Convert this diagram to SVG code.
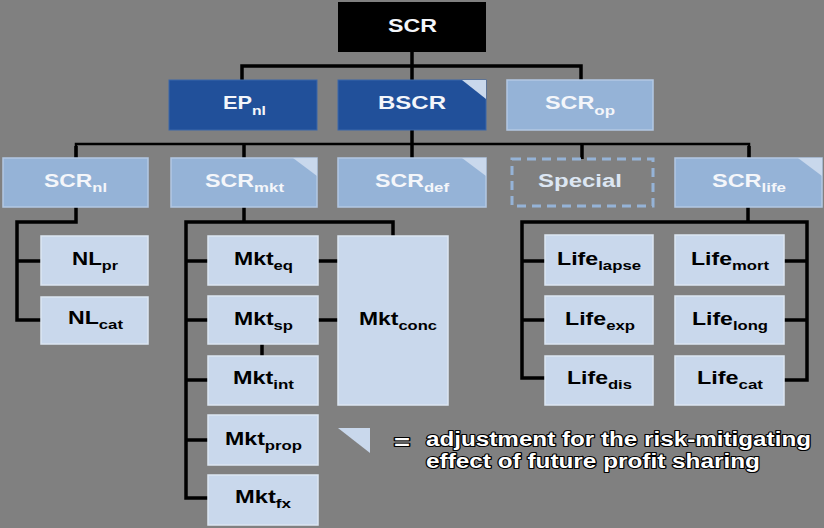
<svg xmlns="http://www.w3.org/2000/svg" width="824" height="528" viewBox="0 0 824 528">
<style>
  .bg{fill:#808080}
  .dark{fill:#21509A;stroke:#3A66AA;stroke-width:1}
  .mid{fill:#95B3D7;stroke:#B3C8E3;stroke-width:1.5}
  .light{fill:#C9D8EC;stroke:#DCE6F2;stroke-width:1.5}
  .corner{fill:#C9D8EC}
  .w{font-family:"Liberation Sans",Arial,sans-serif;font-weight:bold;font-size:18px;fill:#F4F6FA}
  .k{font-family:"Liberation Sans",Arial,sans-serif;font-weight:bold;font-size:18px;fill:#000}
  .sub{font-size:13px}
  .leg{font-family:"Liberation Sans",Arial,sans-serif;font-weight:bold;font-size:20px;fill:#fff;stroke:#000;stroke-width:2.2;paint-order:stroke;stroke-linejoin:round}
  .c{fill:none;stroke:#000;stroke-width:3.5}
  .ct{fill:none;stroke:#000;stroke-width:2.5}
</style>
<rect class="bg" x="0" y="0" width="824" height="528"/>

<g id="connectors">
  <path class="c" d="M412 52 V80"/>
  <path class="c" d="M242 80 V66 H581 V80"/>
  <path class="c" d="M412 130 V158"/>
  <path class="ct" d="M76 158 V144 H749 V158"/>
  <path class="c" d="M244 144 V158 M582 144 V159 M76 146 V158 M749 146 V158"/>
  <path class="c" d="M76 207 V222 H17 V320 H41 M17 261 H41"/>
  <path class="c" d="M244 207 V222 M393 236 V222 H186 V498 H208 M186 261 H208 M186 320 H208 M186 380 H208 M186 440 H208"/>
  <path class="c" d="M318 261 H338 M318 320 H338 M262 344 V356"/>
  <path class="c" d="M748 207 V222 M545 378 H522 V222 H807 V380 H784 M522 261 H545 M522 320 H545 M784 261 H807 M784 320 H807"/>
</g>

<g id="SCR">
  <rect x="338" y="2" width="148" height="50" fill="#000"/>
  <text class="w" x="388" y="32" textLength="49" lengthAdjust="spacingAndGlyphs">SCR</text>
</g>
<g id="EPnl">
  <rect class="dark" x="169" y="80" width="148" height="50"/>
  <text class="w" x="223" y="109" textLength="43" lengthAdjust="spacingAndGlyphs">EP<tspan class="sub" dy="6">nl</tspan></text>
</g>
<g id="BSCR">
  <rect class="dark" x="338" y="80" width="148" height="50"/>
  <polygon class="corner" points="462,80 486,80 486,99"/>
  <text class="w" x="378" y="109" textLength="68" lengthAdjust="spacingAndGlyphs">BSCR</text>
</g>
<g id="SCRop">
  <rect class="mid" x="507" y="80" width="146" height="50"/>
  <text class="w" x="545" y="109" textLength="70" lengthAdjust="spacingAndGlyphs">SCR<tspan class="sub" dy="6">op</tspan></text>
</g>

<g id="SCRnl">
  <rect class="mid" x="3" y="158" width="145" height="49"/>
  <text class="w" x="44" y="187" textLength="63" lengthAdjust="spacingAndGlyphs">SCR<tspan class="sub" dy="5">nl</tspan></text>
</g>
<g id="SCRmkt">
  <rect class="mid" x="171" y="158" width="146" height="49"/>
  <polygon class="corner" points="293,158 317,158 317,176"/>
  <text class="w" x="205" y="187" textLength="79" lengthAdjust="spacingAndGlyphs">SCR<tspan class="sub" dy="5">mkt</tspan></text>
</g>
<g id="SCRdef">
  <rect class="mid" x="338" y="158" width="148" height="49"/>
  <polygon class="corner" points="462,158 486,158 486,176"/>
  <text class="w" x="375" y="187" textLength="74" lengthAdjust="spacingAndGlyphs">SCR<tspan class="sub" dy="5">def</tspan></text>
</g>
<g id="Special">
  <rect x="512" y="159" width="141" height="47" fill="none" stroke="#95B3D7" stroke-width="3" stroke-dasharray="9 6"/>
  <text class="w" x="538" y="187" textLength="84" lengthAdjust="spacingAndGlyphs" style="fill:#DCE6F2">Special</text>
</g>
<g id="SCRlife">
  <rect class="mid" x="675" y="158" width="147" height="49"/>
  <polygon class="corner" points="798,158 822,158 822,176"/>
  <text class="w" x="712" y="187" textLength="74" lengthAdjust="spacingAndGlyphs">SCR<tspan class="sub" dy="5">life</tspan></text>
</g>

<g id="NLpr">
  <rect class="light" x="41" y="236" width="107" height="49"/>
  <text class="k" x="72" y="265" textLength="46" lengthAdjust="spacingAndGlyphs">NL<tspan class="sub" dy="5">pr</tspan></text>
</g>
<g id="NLcat">
  <rect class="light" x="41" y="297" width="107" height="47"/>
  <text class="k" x="68" y="324" textLength="55" lengthAdjust="spacingAndGlyphs">NL<tspan class="sub" dy="5">cat</tspan></text>
</g>

<g id="Mkteq">
  <rect class="light" x="208" y="236" width="110" height="49"/>
  <text class="k" x="234" y="265" textLength="59" lengthAdjust="spacingAndGlyphs">Mkt<tspan class="sub" dy="5">eq</tspan></text>
</g>
<g id="Mktsp">
  <rect class="light" x="208" y="296" width="110" height="48"/>
  <text class="k" x="234" y="325" textLength="59" lengthAdjust="spacingAndGlyphs">Mkt<tspan class="sub" dy="5">sp</tspan></text>
</g>
<g id="Mktint">
  <rect class="light" x="208" y="356" width="110" height="49"/>
  <text class="k" x="233" y="384" textLength="61" lengthAdjust="spacingAndGlyphs">Mkt<tspan class="sub" dy="5">int</tspan></text>
</g>
<g id="Mktprop">
  <rect class="light" x="208" y="415" width="110" height="50"/>
  <text class="k" x="225" y="445" textLength="77" lengthAdjust="spacingAndGlyphs">Mkt<tspan class="sub" dy="5">prop</tspan></text>
</g>
<g id="Mktfx">
  <rect class="light" x="208" y="475" width="110" height="50"/>
  <text class="k" x="235" y="503" textLength="56" lengthAdjust="spacingAndGlyphs">Mkt<tspan class="sub" dy="5">fx</tspan></text>
</g>
<g id="Mktconc">
  <rect class="light" x="338" y="236" width="110" height="169"/>
  <text class="k" x="359" y="325" textLength="78" lengthAdjust="spacingAndGlyphs">Mkt<tspan class="sub" dy="5">conc</tspan></text>
</g>

<g id="Lifelapse">
  <rect class="light" x="545" y="235" width="108" height="50"/>
  <text class="k" x="557" y="265" textLength="84" lengthAdjust="spacingAndGlyphs">Life<tspan class="sub" dy="5">lapse</tspan></text>
</g>
<g id="Lifemort">
  <rect class="light" x="675" y="235" width="109" height="50"/>
  <text class="k" x="691" y="265" textLength="78" lengthAdjust="spacingAndGlyphs">Life<tspan class="sub" dy="5">mort</tspan></text>
</g>
<g id="Lifeexp">
  <rect class="light" x="545" y="296" width="108" height="48"/>
  <text class="k" x="565" y="325" textLength="70" lengthAdjust="spacingAndGlyphs">Life<tspan class="sub" dy="5">exp</tspan></text>
</g>
<g id="Lifelong">
  <rect class="light" x="675" y="296" width="109" height="48"/>
  <text class="k" x="692" y="325" textLength="76" lengthAdjust="spacingAndGlyphs">Life<tspan class="sub" dy="5">long</tspan></text>
</g>
<g id="Lifedis">
  <rect class="light" x="545" y="356" width="108" height="49"/>
  <text class="k" x="567" y="384" textLength="65" lengthAdjust="spacingAndGlyphs">Life<tspan class="sub" dy="5">dis</tspan></text>
</g>
<g id="Lifecat">
  <rect class="light" x="675" y="356" width="109" height="49"/>
  <text class="k" x="697" y="384" textLength="66" lengthAdjust="spacingAndGlyphs">Life<tspan class="sub" dy="5">cat</tspan></text>
</g>

<g id="legend">
  <polygon class="corner" points="338,428 370,428 370,453"/>
  <text class="leg" x="394" y="449" textLength="16" lengthAdjust="spacingAndGlyphs">=</text>
  <text class="leg" x="426" y="446" textLength="385" lengthAdjust="spacingAndGlyphs">adjustment for the risk-mitigating</text>
  <text class="leg" x="426" y="468" textLength="334" lengthAdjust="spacingAndGlyphs">effect of future profit sharing</text>
</g>
</svg>
